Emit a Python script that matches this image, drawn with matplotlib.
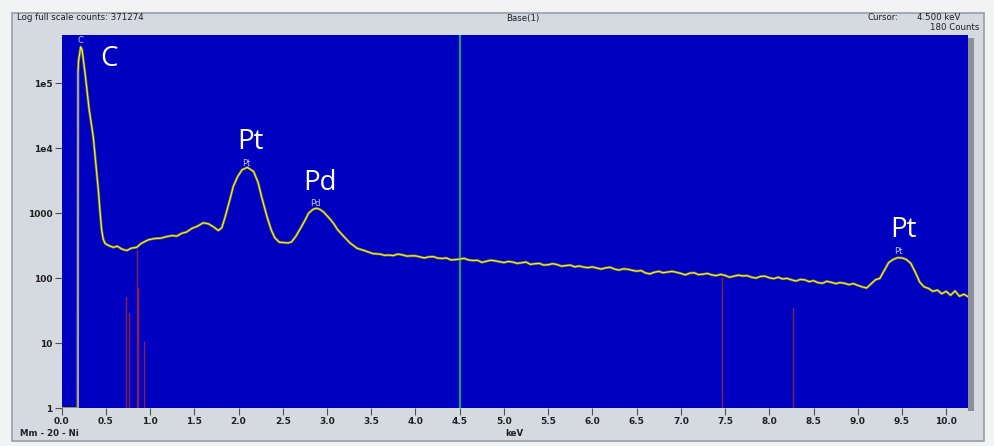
import matplotlib
matplotlib.use("Agg")
import matplotlib.pyplot as plt
from matplotlib.patches import Rectangle

# ---------------- data ----------------
energy_kev = [0.00, 0.18, 0.185, 0.19, 0.215, 0.23, 0.265, 0.31, 0.357, 0.39, 0.414, 0.435,
              0.452, 0.47, 0.49, 0.53, 0.584, 0.63, 0.68, 0.735, 0.79, 0.848, 0.90, 0.98,
              1.05, 1.12, 1.19, 1.25, 1.30, 1.36, 1.41, 1.47, 1.53, 1.60, 1.66, 1.72, 1.77,
              1.81, 1.85, 1.90, 1.94, 1.99, 2.04, 2.10, 2.17, 2.22, 2.26, 2.32, 2.37, 2.41,
              2.46, 2.51, 2.56, 2.60, 2.65, 2.70, 2.75, 2.79, 2.84, 2.88, 2.92, 2.96, 3.02,
              3.07, 3.12, 3.19, 3.26, 3.34, 3.42, 3.52, 3.60, 3.65,
              3.70, 3.75, 3.80, 3.85, 3.90, 3.95, 4.00, 4.05, 4.10, 4.15, 4.20, 4.25, 4.30,
              4.35, 4.40, 4.45, 4.50, 4.55, 4.60, 4.65, 4.70, 4.75, 4.80, 4.85, 4.90, 4.95,
              5.00, 5.05, 5.10, 5.15, 5.20, 5.25, 5.30, 5.35, 5.40, 5.45, 5.50, 5.55, 5.60,
              5.65, 5.70, 5.75, 5.80, 5.85, 5.90, 5.95, 6.00, 6.05, 6.10, 6.15, 6.20, 6.25,
              6.30, 6.35, 6.40, 6.45, 6.50, 6.55, 6.60, 6.65, 6.70, 6.75, 6.80, 6.85, 6.90,
              6.95, 7.00, 7.05, 7.10, 7.15, 7.20, 7.25, 7.30, 7.35, 7.40, 7.45, 7.50, 7.55,
              7.60, 7.65, 7.70, 7.75, 7.80, 7.85, 7.90, 7.95, 8.00, 8.05, 8.10, 8.15, 8.20,
              8.25, 8.30, 8.35, 8.40, 8.45, 8.50, 8.55, 8.60, 8.65, 8.70, 8.75, 8.80, 8.85,
              8.90, 8.95, 9.00, 9.05, 9.10, 9.15, 9.20, 9.25, 9.30, 9.35, 9.40, 9.45, 9.50,
              9.55, 9.60, 9.65, 9.70, 9.75, 9.80, 9.85, 9.90, 9.95, 10.00, 10.05, 10.10,
              10.15, 10.20, 10.25]
counts = [1, 1, 150000, 220000, 365000, 330000, 140000, 40000, 15000, 5000, 2300, 1000,
          550, 400, 345, 320, 300, 312, 282, 268, 292, 300, 345, 392,
          410, 415, 440, 455, 446, 495, 515, 585, 630, 715, 690, 615, 545,
          600, 900, 1600, 2600, 3700, 4700, 5100, 4400, 3000, 1800, 900, 550, 420,
          360, 355, 350, 365, 450, 590, 780, 1000, 1150, 1200, 1150, 1050, 860,
          710, 560, 440, 350, 290, 268, 240, 236, 226,
          228, 224, 236, 230, 220, 222, 222, 214, 206, 214, 216, 205, 202,
          206, 192, 194, 198, 203, 192, 188, 190, 176, 183, 190, 186, 180,
          175, 182, 178, 170, 174, 178, 164, 168, 170, 160, 162, 168, 163,
          154, 157, 160, 150, 155, 149, 146, 150, 144, 139, 145, 148, 139,
          134, 140, 138, 133, 129, 132, 121, 117, 124, 128, 122, 125, 128,
          124, 119, 113, 120, 122, 114, 116, 119, 113, 110, 115, 111, 104,
          108, 112, 109, 110, 104, 101, 107, 108, 102, 99, 104, 98, 100,
          95, 91, 96, 95, 89, 92, 86, 84, 90, 87, 83, 86, 84,
          80, 83, 78, 74, 71, 82, 95, 100, 132, 175, 195, 208, 206,
          195, 170, 125, 88, 74, 70, 63, 66, 58, 63, 55, 64,
          53, 57, 52]

# element marker lines (keV, height in counts)
marker_kev = [0.727, 0.765, 0.848, 0.860, 0.934, 7.47, 8.27]
marker_counts = [52, 29, 273, 70, 10.5, 102, 35]

# peak labels: (text, keV, counts)
peak_small = [("C", 0.21, 4.5e5), ("Pt", 2.09, 5870), ("Pd", 2.865, 1430), ("Pt", 9.46, 257)]
peak_big = [("C", 0.535, 1.85e5), ("Pt", 2.13, 9770), ("Pd", 2.92, 2290), ("Pt", 9.52, 432)]

cursor_kev = 4.5

x_ticks = [i * 0.5 for i in range(21)]
x_tick_labels = ["%.1f" % v for v in x_ticks]
y_ticks = [1, 10, 100, 1000, 1e4, 1e5]
y_tick_labels = ["1", "10", "100", "1000", "1e4", "1e5"]

# ---------------- figure ----------------
W, H = 995, 446
fig = plt.figure(figsize=(W / 100, H / 100), dpi=100)
fig.patch.set_facecolor("#f2f3f5")

def px_rect(x0, y0, x1, y1, **kw):
    fig.patches.append(Rectangle((x0 / W, 1 - y1 / H), (x1 - x0) / W, (y1 - y0) / H,
                                 transform=fig.transFigure, **kw))

# panel
px_rect(12, 13, 984, 441, facecolor="#d5d9e0", edgecolor="#9a9ea6", linewidth=1.2, zorder=-2)
# plot shadow on right
px_rect(968, 38, 974, 411, facecolor="#8c9096", edgecolor="none", zorder=-1)

ax = fig.add_axes([61.7 / W, 1 - 408.3 / H, (968.3 - 61.7) / W, (408.3 - 35) / H])
ax.set_zorder(5)
ax.set_facecolor("#0000c0")
ax.set_yscale("log")
ax.set_xlim(0, 10.25)
ax.set_ylim(1, 10 ** 5.745)

# cursor
ax.axvline(cursor_kev, color="#1f9a7a", lw=1.6, zorder=2)

# markers
for xk, hc in zip(marker_kev, marker_counts):
    ax.plot([xk, xk], [1, hc], color="#8a2050", lw=1.0, zorder=3)

# spectrum
ax.plot(energy_kev, counts, color="#6a6a48", lw=1.9, zorder=4, solid_joinstyle="round")
ax.plot(energy_kev, counts, color="#f0f020", lw=0.9, zorder=5, solid_joinstyle="round")
ax.plot([energy_kev[1], energy_kev[1]], [1, 150000], color="#a0a0a8", lw=1.5, zorder=6)

for t, xk, yc in peak_small:
    ax.text(xk, yc, t, color="#c8c8ff", fontsize=6, ha="center", va="center", zorder=7)
for t, xk, yc in peak_big:
    ax.text(xk, yc, t, color="white", fontsize=20, family="Open Sans",
            ha="center", va="baseline", zorder=7)

for s in ax.spines.values():
    s.set_visible(False)

ax.set_xticks(x_ticks)
ax.set_xticklabels(x_tick_labels)
ax.set_yticks(y_ticks)
ax.set_yticklabels(y_tick_labels)
ax.minorticks_off()
ax.tick_params(axis="both", direction="out", length=5, width=0.8, color="#505050",
               labelsize=6.5, labelcolor="#202020", pad=1.5)
for lab in ax.get_xticklabels() + ax.get_yticklabels():
    lab.set_fontweight("bold")

# header / footer texts
fs = 6.2
fig.text(17 / W, 1 - 18 / H, "Log full scale counts: 371274", fontsize=fs, color="#202020",
         va="center", ha="left")
fig.text(523 / W, 1 - 18 / H, "Base(1)", fontsize=fs, color="#202020", va="center", ha="center")
fig.text(868 / W, 1 - 18 / H, "Cursor:", fontsize=fs, color="#202020", va="center", ha="left")
fig.text(960 / W, 1 - 18 / H, "4.500 keV", fontsize=fs, color="#202020", va="center", ha="right")
fig.text(979 / W, 1 - 28 / H, "180 Counts", fontsize=fs, color="#202020", va="center", ha="right")
fig.text(20 / W, 1 - 433 / H, "Mm - 20 - Ni", fontsize=fs, color="#202020", va="center",
         ha="left", fontweight="bold")
fig.text(514 / W, 1 - 433 / H, "keV", fontsize=fs, color="#202020", va="center",
         ha="center", fontweight="bold")

fig.savefig("out.png", dpi=100, facecolor=fig.get_facecolor())
